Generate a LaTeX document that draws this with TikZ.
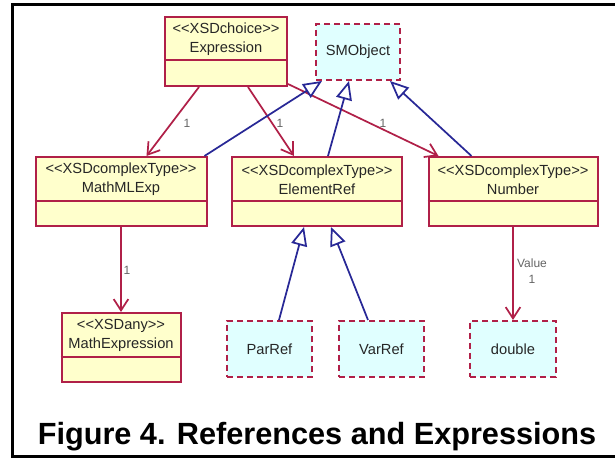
\documentclass[tikz,border=0pt]{standalone}
\usepackage{fontspec}
\setmainfont{Liberation Sans}
\usetikzlibrary{arrows.meta,calc}
\definecolor{umlred}{RGB}{176,32,72}
\definecolor{umlyellow}{RGB}{255,255,204}
\definecolor{umlcyan}{RGB}{224,255,255}
\definecolor{umlblue}{RGB}{40,40,150}
\definecolor{labelgray}{RGB}{100,100,100}
\begin{document}
\begin{tikzpicture}[x=0.75pt,y=-0.75pt,
  sz/.style 2 args={minimum width=#1*0.75pt, minimum height=#2*0.75pt},
  classbox/.style={draw=umlred, fill=umlyellow, line width=1.5pt, inner sep=0pt},
  refbox/.style={draw=umlred, fill=umlcyan, line width=1.5pt, dash pattern=on 4.5pt off 3pt,
    inner sep=0pt, font=\fontsize{11}{13}\selectfont, text=black!85},
  head/.style={align=center, inner sep=0pt, font=\fontsize{11}{14.25}\selectfont, text=black!85},
  divider/.style={draw=umlred, line width=1.5pt},
  assoc/.style={draw=umlred, line width=1.3pt,
    -{Straight Barb[length=8.5pt,width=11pt,line width=1.3pt]}},
  gen/.style={draw=umlblue, line width=1.3pt,
    -{Triangle[open,length=14pt,width=12pt,line width=1.3pt,fill=white]}},
  mult/.style={font=\fontsize{9}{10}\selectfont, text=labelgray, inner sep=0pt}
]
\useasboundingbox (0,0) rectangle (615,466);

% outer frame, open on the right
\draw[line width=2.25pt] (615,5) -- (12,5) -- (12,457) -- (615,457);

% classes with a name compartment and an empty attribute compartment
\node[classbox, sz={122}{69}] (expr) at (226,51.5) {};
\draw[divider] ($(expr.north west)+(0,44)$) -- ($(expr.north east)+(0,44)$);
\node[head] (expr-t) at (226,39) {<{}<XSDchoice>{}>\\Expression};

\node[classbox, sz={171}{69}] (mathml) at (121,191.5) {};
\draw[divider] ($(mathml.north west)+(0,45)$) -- ($(mathml.north east)+(0,45)$);
\node[head] (mathml-t) at (121,179.5) {<{}<XSDcomplexType>{}>\\MathMLExp};

\node[classbox, sz={170}{69}] (elemref) at (317,191.5) {};
\draw[divider] ($(elemref.north west)+(0,45)$) -- ($(elemref.north east)+(0,45)$);
\node[head] (elemref-t) at (317,179.5) {<{}<XSDcomplexType>{}>\\ElementRef};

\node[classbox, sz={169}{69}] (number) at (513,191.5) {};
\draw[divider] ($(number.north west)+(0,45)$) -- ($(number.north east)+(0,45)$);
\node[head] (number-t) at (513,179.5) {<{}<XSDcomplexType>{}>\\Number};

\node[classbox, sz={119}{69}] (mathexpr) at (121,347.5) {};
\draw[divider] ($(mathexpr.north west)+(0,45)$) -- ($(mathexpr.north east)+(0,45)$);
\node[head] (mathexpr-t) at (121,335.5) {<{}<XSDany>{}>\\MathExpression};

% external types
\node[refbox, sz={84}{56}] (smobj) at (358,52) {SMObject};
\node[refbox, sz={85}{56}] (parref) at (269.5,349) {ParRef};
\node[refbox, sz={85}{56}] (varref) at (381.5,349) {VarRef};
\node[refbox, sz={86}{56}] (double) at (513,349) {double};

% associations
\draw[assoc] ($(expr.south west)+(35,0)$) -- ($(mathml.north west)+(112,0)$);
\draw[assoc] ($(expr.south west)+(84,0)$) -- ($(elemref.north west)+(63,0)$);
\draw[assoc] ($(expr.south east)+(0,-3)$) -- ($(number.north west)+(11,0)$);
\draw[assoc] (mathml.south) -- (mathml.south |- mathexpr.north);
\draw[assoc] (number.south) -- (number.south |- double.north);

\node[mult] (m1) at (187,123) {1};
\node[mult] (m2) at (280,123) {1};
\node[mult] (m3) at (383,123) {1};
\node[mult] (m4) at (127,270) {1};
\node[mult, align=center, font=\fontsize{9}{12}\selectfont] (m5) at (532,271) {Value\\1};

% generalizations
\draw[gen] ($(mathml.north east)+(-3,0)$) -- ($(smobj.south west)+(7,0)$);
\draw[gen] ($(elemref.north west)+(97,0)$) -- ($(smobj.south west)+(34,0)$);
\draw[gen] ($(number.north west)+(44,0)$) -- ($(smobj.south west)+(75,0)$);
\draw[gen] ($(parref.north west)+(53,0)$) -- ($(elemref.south west)+(73,0)$);
\draw[gen] ($(varref.north west)+(30,0)$) -- ($(elemref.south west)+(100,0)$);

% caption
\node[font=\fontsize{23}{26}\selectfont\bfseries, inner sep=0pt] (caption) at (317,437)
  {Figure 4. References and Expressions};
\end{tikzpicture}
\end{document}
